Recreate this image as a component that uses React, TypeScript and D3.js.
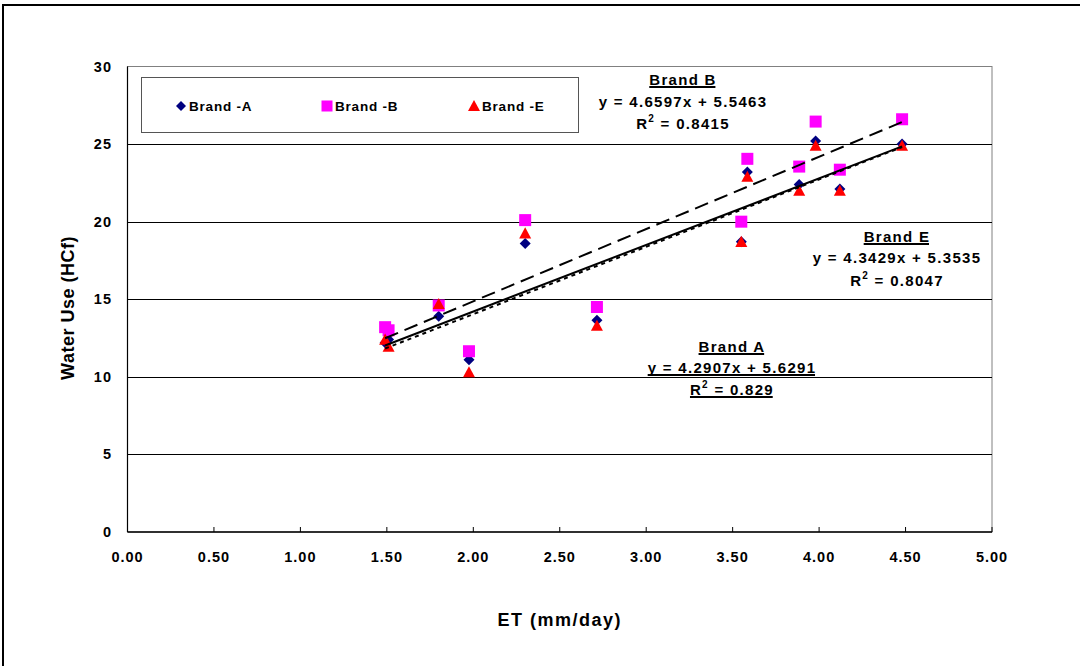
import React, { useEffect, useRef } from 'react';
import * as d3 from 'd3';

const etValues = [1.49, 1.51, 1.8, 1.975, 2.3, 2.715, 3.55, 3.585, 3.885, 3.98, 4.12, 4.48];
const brandA = [12.2, 12.4, 13.9, 11.1, 18.6, 13.65, 18.7, 23.2, 22.4, 25.2, 22.1, 25.0];
const brandB = [13.2, 13.0, 14.6, 11.65, 20.1, 14.5, 20.0, 24.05, 23.55, 26.45, 23.35, 26.6];
const brandE = [12.4, 11.95, 14.7, 10.3, 19.25, 13.3, 18.7, 22.9, 22.0, 24.9, 22.0, 24.9];

const xTicks = [0, 0.5, 1, 1.5, 2, 2.5, 3, 3.5, 4, 4.5, 5];
const yTicks = [0, 5, 10, 15, 20, 25, 30];

const legendLabels = ['Brand -A', 'Brand -B', 'Brand -E'];

const trendA = { slope: 4.2907, intercept: 5.6291, r2: '0.829', name: 'Brand A' };
const trendB = { slope: 4.6597, intercept: 5.5463, r2: '0.8415', name: 'Brand B' };
const trendE = { slope: 4.3429, intercept: 5.3535, r2: '0.8047', name: 'Brand E' };

const FONT = '"Liberation Sans", Arial, sans-serif';

export default function App() {
  const ref = useRef<SVGSVGElement | null>(null);

  useEffect(() => {
    const svg = d3.select(ref.current);
    svg.selectAll('*').remove();

    const W = 1080, H = 666;
    const left = 127.5, right = 992, top = 66.5, bottom = 532;
    const x = d3.scaleLinear().domain([0, 5]).range([left, right]);
    const y = d3.scaleLinear().domain([0, 30]).range([bottom, top]);

    svg.append('rect').attr('width', W).attr('height', H).attr('fill', '#fff');
    // outer frame
    svg.append('rect').attr('x', 3).attr('y', 5).attr('width', W + 20).attr('height', H + 20)
      .attr('fill', 'none').attr('stroke', '#000').attr('stroke-width', 2);

    // plot border
    svg.append('rect').attr('x', left).attr('y', top).attr('width', right - left).attr('height', bottom - top)
      .attr('fill', '#fff').attr('stroke', '#808080').attr('stroke-width', 1);

    // gridlines
    svg.append('g').selectAll('line').data(yTicks.filter(d => d > 0 && d < 30)).join('line')
      .attr('x1', left).attr('x2', right)
      .attr('y1', d => Math.round(y(d)) + 0.5).attr('y2', d => Math.round(y(d)) + 0.5)
      .attr('stroke', '#000').attr('stroke-width', 1);

    // axes
    svg.append('line').attr('x1', left).attr('x2', left).attr('y1', top).attr('y2', bottom)
      .attr('stroke', '#000').attr('stroke-width', 1.2);
    svg.append('line').attr('x1', left).attr('x2', right).attr('y1', bottom).attr('y2', bottom)
      .attr('stroke', '#000').attr('stroke-width', 1.5);
    svg.append('g').selectAll('line').data(xTicks).join('line')
      .attr('x1', d => x(d)).attr('x2', d => x(d)).attr('y1', bottom - 5).attr('y2', bottom)
      .attr('stroke', '#000').attr('stroke-width', 1);

    // tick labels
    svg.append('g').selectAll('text').data(xTicks).join('text')
      .attr('x', d => x(d)).attr('y', 562)
      .attr('text-anchor', 'middle')
      .style('font-family', FONT).style('font-weight', 'bold').style('font-size', '14.5px')
      .style('letter-spacing', '1px')
      .text(d => d3.format('.2f')(d));
    svg.append('g').selectAll('text').data(yTicks).join('text')
      .attr('x', 112).attr('y', d => y(d) + 5)
      .attr('text-anchor', 'end')
      .style('font-family', FONT).style('font-weight', 'bold').style('font-size', '14.5px')
      .style('letter-spacing', '1px')
      .text(d => String(d));

    // axis titles
    svg.append('text').attr('x', (left + right) / 2).attr('y', 626)
      .attr('text-anchor', 'middle')
      .style('font-family', FONT).style('font-weight', 'bold').style('font-size', '18px')
      .style('letter-spacing', '1.5px')
      .text('ET (mm/day)');
    svg.append('text').attr('transform', 'translate(74,308) rotate(-90)')
      .attr('text-anchor', 'middle')
      .style('font-family', FONT).style('font-weight', 'bold').style('font-size', '18px')
      .style('letter-spacing', '0.5px')
      .text('Water Use (HCf)');

    const drawDiamond = (g: any, cx: number, cy: number, s: number) =>
      g.append('path').attr('d', `M${cx},${cy - s}L${cx + s},${cy}L${cx},${cy + s}L${cx - s},${cy}Z`).attr('fill', '#000080');
    const drawSquare = (g: any, cx: number, cy: number, s: number) =>
      g.append('rect').attr('x', cx - s).attr('y', cy - s).attr('width', 2 * s).attr('height', 2 * s).attr('fill', '#ff00ff');
    const drawTri = (g: any, cx: number, cy: number, s: number) =>
      g.append('path').attr('d', `M${cx},${cy - s}L${cx + s},${cy + s * 0.85}L${cx - s},${cy + s * 0.85}Z`).attr('fill', '#ff0000');

    const gm = svg.append('g');
    etValues.forEach((v, i) => drawDiamond(gm, x(v), y(brandA[i]), 5.5));
    etValues.forEach((v, i) => drawSquare(gm, x(v), y(brandB[i]), 6));
    etValues.forEach((v, i) => drawTri(gm, x(v), y(brandE[i]), 6));

    // trendlines
    const xMin = d3.min(etValues) as number;
    const xMax = d3.max(etValues) as number;
    const trends = [
      { t: trendA, dash: null },
      { t: trendE, dash: '4,4' },
      { t: trendB, dash: '14,7' },
    ];
    trends.forEach(({ t, dash }) => {
      const l = svg.append('line')
        .attr('x1', x(xMin)).attr('y1', y(t.slope * xMin + t.intercept))
        .attr('x2', x(xMax)).attr('y2', y(t.slope * xMax + t.intercept))
        .attr('stroke', '#000').attr('stroke-width', 2);
      if (dash) l.attr('stroke-dasharray', dash);
    });

    // legend
    svg.append('rect').attr('x', 141.5).attr('y', 77.5).attr('width', 437).attr('height', 55)
      .attr('fill', '#fff').attr('stroke', '#555').attr('stroke-width', 1);
    const lg = svg.append('g');
    const lx = [181, 327, 474];
    const ly = 106;
    drawDiamond(lg, lx[0], ly, 5);
    drawSquare(lg, lx[1], ly, 5.5);
    drawTri(lg, lx[2], ly, 6);
    legendLabels.forEach((lab, i) => {
      lg.append('text').attr('x', lx[i] + 8).attr('y', ly + 5)
        .style('font-family', FONT).style('font-weight', 'bold').style('font-size', '13.5px')
        .style('letter-spacing', '0.8px')
        .text(lab);
    });

    // annotations
    const fmt = (v: number) => v.toFixed(4);
    const annot = (t: typeof trendA, cx: number, ys: number[], underlineAll: boolean) => {
      const g = svg.append('g').style('font-family', FONT).style('font-weight', 'bold')
        .style('font-size', '15px').style('letter-spacing', '1.3px');
      const t1 = g.append('text').attr('x', cx).attr('y', ys[0] + 5.5).attr('text-anchor', 'middle').text(t.name);
      const t2 = g.append('text').attr('x', cx).attr('y', ys[1] + 5.5).attr('text-anchor', 'middle')
        .text(`y = ${fmt(t.slope)}x + ${fmt(t.intercept)}`);
      const t3 = g.append('text').attr('x', cx).attr('y', ys[2] + 5.5).attr('text-anchor', 'middle');
      t3.append('tspan').text('R');
      t3.append('tspan').attr('dy', -7).style('font-size', '10px').text('2');
      t3.append('tspan').attr('dy', 7).text(` = ${t.r2}`);
      const under = (node: any) => {
        const bb = (node.node() as SVGTextElement).getBBox();
        g.append('rect').attr('x', bb.x).attr('y', bb.y + bb.height - 1.5).attr('width', bb.width - 1.3).attr('height', 2).attr('fill', '#000');
      };
      under(t1);
      if (underlineAll) { under(t2); under(t3); }
    };
    annot(trendB, 683, [79, 101, 123], false);
    annot(trendE, 897, [236, 257, 280], false);
    annot(trendA, 732, [346, 367, 389], true);
  }, []);

  return (
    <svg ref={ref} width={1080} height={666}
      style={{ position: 'absolute', left: 0, top: 0, display: 'block' }} />
  );
}
